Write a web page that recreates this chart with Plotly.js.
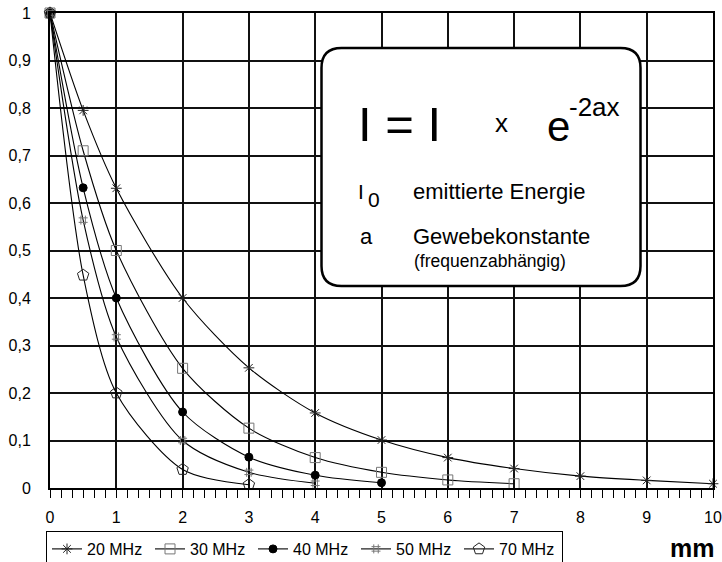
<!DOCTYPE html>
<html>
<head>
<meta charset="utf-8">
<script src="https://cdn.plot.ly/plotly-3.0.1.min.js"></script>
<style>
html,body{margin:0;padding:0;background:#fff;}
#chart{width:722px;height:562px;}
</style>
</head>
<body>
<div id="chart"></div>
<script>
// ---- data ----
const seriesNames = ['20 MHz', '30 MHz', '40 MHz', '50 MHz', '70 MHz'];
const x20 = [0, 0.5, 1, 2, 3, 4, 5, 6, 7, 8, 9, 10];
const y20 = [1, 0.795, 0.631, 0.40, 0.253, 0.158, 0.101, 0.064, 0.041, 0.025, 0.016, 0.009];
const x30 = [0, 0.5, 1, 2, 3, 4, 5, 6, 7];
const y30 = [1, 0.71, 0.50, 0.252, 0.126, 0.064, 0.033, 0.017, 0.009];
const x40 = [0, 0.5, 1, 2, 3, 4, 5];
const y40 = [1, 0.632, 0.40, 0.16, 0.065, 0.027, 0.011];
const x50 = [0, 0.5, 1, 2, 3, 4];
const y50 = [1, 0.564, 0.318, 0.10, 0.033, 0.01];
const x70 = [0, 0.5, 1, 2, 3];
const y70 = [1, 0.448, 0.20, 0.039, 0.007];
const yTickVals = [0, 0.1, 0.2, 0.3, 0.4, 0.5, 0.6, 0.7, 0.8, 0.9, 1];
const yTickText = ['0', '0,1', '0,2', '0,3', '0,4', '0,5', '0,6', '0,7', '0,8', '0,9', '1'];
const xTickVals = [0, 1, 2, 3, 4, 5, 6, 7, 8, 9, 10];
const xTickText = ['0', '1', '2', '3', '4', '5', '6', '7', '8', '9', '10'];

// ---- styles ----
const FONT = 'Liberation Sans, Arial, Helvetica, sans-serif';
const xs = [x20, x30, x40, x50, x70];
const ys = [y20, y30, y40, y50, y70];
const symbols = ['asterisk-open', 'square-open', 'circle', 'hash-open', 'pentagon-open'];
const mcolors = ['#222', '#777', '#000', '#777', '#222'];
const msizes = [9, 10, 8, 9, 12];

const traces = seriesNames.map((n, i) => ({
  type: 'scatter',
  mode: 'lines+markers',
  name: n,
  x: xs[i],
  y: ys[i],
  cliponaxis: false,
  line: {color: '#000', width: 1.1, shape: 'spline', smoothing: 0.8},
  marker: {symbol: symbols[i], size: msizes[i], color: mcolors[i],
           line: {color: mcolors[i], width: 1}},
  hoverinfo: 'skip'
}));

// pixel -> paper helpers (plot area: x 50..713, y 13..488)
const W = 722, H = 562;
const L = 50, R = 713, T = 13, B = 488;
const px = p => (p - L) / (R - L);
const py = p => (B - p) / (B - T);

// rounded box
const bx0 = 321.5, bx1 = 640.5, by0 = 48, by1 = 286, rr = 20;
const boxPath =
  `M ${px(bx0 + rr)} ${py(by0)} L ${px(bx1 - rr)} ${py(by0)} ` +
  `Q ${px(bx1)} ${py(by0)} ${px(bx1)} ${py(by0 + rr)} ` +
  `L ${px(bx1)} ${py(by1 - rr)} Q ${px(bx1)} ${py(by1)} ${px(bx1 - rr)} ${py(by1)} ` +
  `L ${px(bx0 + rr)} ${py(by1)} Q ${px(bx0)} ${py(by1)} ${px(bx0)} ${py(by1 - rr)} ` +
  `L ${px(bx0)} ${py(by0 + rr)} Q ${px(bx0)} ${py(by0)} ${px(bx0 + rr)} ${py(by0)} Z`;

function ann(text, xLeft, baseline, size, opts) {
  return Object.assign({
    text: text, xref: 'paper', yref: 'paper',
    x: px(xLeft), y: py(baseline - 0.33 * size),
    xanchor: 'left', yanchor: 'middle', showarrow: false,
    font: {family: FONT, size: size, color: '#000'}, borderpad: 0
  }, opts || {});
}

const annotations = [
  ann('I = I', 357, 140, 49),
  ann('x', 494, 132, 26),
  ann('e', 546, 140, 42),
  ann('-2ax', 568, 116, 26),
  ann('I', 357, 198, 21),
  ann('0', 367, 206, 21),
  ann('emittierte Energie', 412, 199, 22),
  ann('a', 359, 244, 22),
  ann('Gewebekonstante', 412, 244, 22),
  ann('(frequenzabhängig)', 413, 267, 17.5),
  {text: '<b>mm</b>', xref: 'paper', yref: 'paper', x: px(716), y: py(548),
   xanchor: 'right', yanchor: 'middle', showarrow: false,
   font: {family: FONT, size: 25, color: '#000'}}
];

const layout = {
  width: W, height: H,
  margin: {l: L, r: W - R, t: T, b: H - B, autoexpand: false},
  paper_bgcolor: '#fff', plot_bgcolor: '#fff',
  font: {family: FONT, size: 16, color: '#000'},
  showlegend: true,
  legend: {
    orientation: 'h', xref: 'container', yref: 'container',
    x: 46 / W, y: 1 - 531 / H, xanchor: 'left', yanchor: 'top',
    bordercolor: '#000', borderwidth: 1, bgcolor: '#fff',
    font: {family: FONT, size: 16, color: '#000'},
    entrywidth: 58, entrywidthmode: 'pixels', itemwidth: 30,
    tracegroupgap: 0
  },
  xaxis: {
    range: [0, 10], tickvals: xTickVals, ticktext: xTickText,
    showgrid: true, gridcolor: '#111', gridwidth: 2,
    showline: true, mirror: true, linecolor: '#000', linewidth: 2,
    ticks: 'outside', ticklen: 8, tickwidth: 1, tickcolor: '#000',
    ticklabelstandoff: 6,
    minor: {dtick: 1 / 6, tick0: 0, ticks: 'outside', ticklen: 8, tickwidth: 1,
            tickcolor: '#000', showgrid: false},
    zeroline: false, fixedrange: true, automargin: false,
    tickfont: {family: FONT, size: 16, color: '#000'}
  },
  yaxis: {
    range: [0, 1], tickvals: yTickVals, ticktext: yTickText,
    showgrid: true, gridcolor: '#111', gridwidth: 2,
    showline: true, mirror: true, linecolor: '#000', linewidth: 2,
    ticks: '', ticklabelstandoff: 14,
    zeroline: false, fixedrange: true, automargin: false,
    tickfont: {family: FONT, size: 16, color: '#000'}
  },
  shapes: [{
    type: 'path', xref: 'paper', yref: 'paper', path: boxPath,
    fillcolor: '#fff', line: {color: '#000', width: 2.5}, layer: 'above'
  }],
  annotations: annotations
};

Plotly.newPlot('chart', traces, layout, {displayModeBar: false, staticPlot: true});
</script>
</body>
</html>
